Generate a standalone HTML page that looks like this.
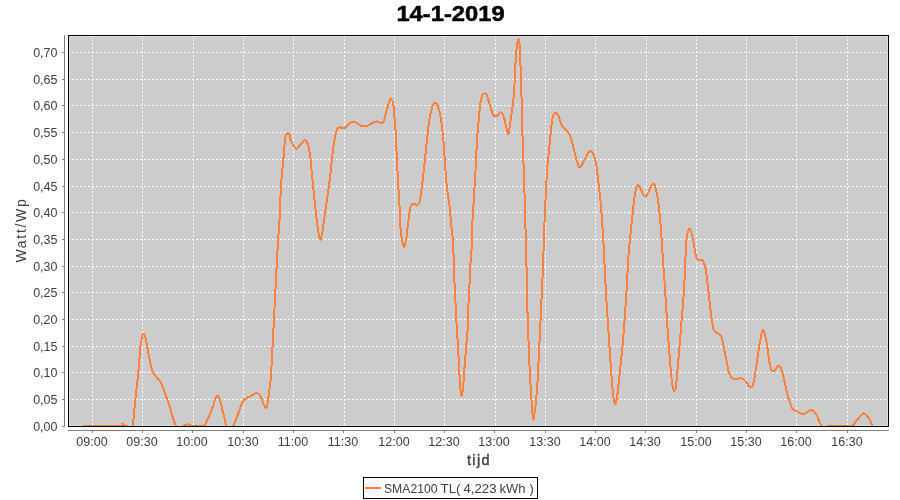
<!DOCTYPE html>
<html><head><meta charset="utf-8"><style>
html,body{margin:0;padding:0;background:#fff;width:900px;height:500px;overflow:hidden}
svg{display:block;will-change:transform}
text{font-family:"Liberation Sans",sans-serif}
</style></head><body>
<svg width="900" height="500" viewBox="0 0 900 500">
<rect x="0" y="0" width="900" height="500" fill="#fff"/>
<g transform="translate(450.5,21) scale(1.08,1)"><text x="0" y="0" text-anchor="middle" font-size="22" font-weight="bold" fill="#000" stroke="#000" stroke-width="0.5">14-1-2019</text></g>
<rect x="68" y="35" width="821" height="392" fill="#cccccc"/>
<rect x="69.5" y="36.5" width="818" height="389" fill="none" stroke="#dddddd" stroke-width="1" shape-rendering="crispEdges"/>
<g stroke="#fff" stroke-width="1" stroke-dasharray="2,2" shape-rendering="crispEdges">
<line x1="92.5" y1="35" x2="92.5" y2="426"/>
<line x1="142.5" y1="35" x2="142.5" y2="426"/>
<line x1="193.5" y1="35" x2="193.5" y2="426"/>
<line x1="243.5" y1="35" x2="243.5" y2="426"/>
<line x1="293.5" y1="35" x2="293.5" y2="426"/>
<line x1="344.5" y1="35" x2="344.5" y2="426"/>
<line x1="394.5" y1="35" x2="394.5" y2="426"/>
<line x1="444.5" y1="35" x2="444.5" y2="426"/>
<line x1="495.5" y1="35" x2="495.5" y2="426"/>
<line x1="545.5" y1="35" x2="545.5" y2="426"/>
<line x1="595.5" y1="35" x2="595.5" y2="426"/>
<line x1="646.5" y1="35" x2="646.5" y2="426"/>
<line x1="696.5" y1="35" x2="696.5" y2="426"/>
<line x1="746.5" y1="35" x2="746.5" y2="426"/>
<line x1="796.5" y1="35" x2="796.5" y2="426"/>
<line x1="847.5" y1="35" x2="847.5" y2="426"/>
<line x1="68" y1="399.5" x2="888" y2="399.5"/>
<line x1="68" y1="372.5" x2="888" y2="372.5"/>
<line x1="68" y1="346.5" x2="888" y2="346.5"/>
<line x1="68" y1="319.5" x2="888" y2="319.5"/>
<line x1="68" y1="292.5" x2="888" y2="292.5"/>
<line x1="68" y1="266.5" x2="888" y2="266.5"/>
<line x1="68" y1="239.5" x2="888" y2="239.5"/>
<line x1="68" y1="212.5" x2="888" y2="212.5"/>
<line x1="68" y1="186.5" x2="888" y2="186.5"/>
<line x1="68" y1="159.5" x2="888" y2="159.5"/>
<line x1="68" y1="132.5" x2="888" y2="132.5"/>
<line x1="68" y1="105.5" x2="888" y2="105.5"/>
<line x1="68" y1="79.5" x2="888" y2="79.5"/>
<line x1="68" y1="52.5" x2="888" y2="52.5"/>
</g>
<clipPath id="pc"><rect x="68" y="35" width="820" height="391"/></clipPath>
<path clip-path="url(#pc)" d="M82.00,426.00 C88.33,426.00 113.27,426.40 120.00,426.00 C126.73,425.60 121.65,423.60 122.40,423.60 C123.15,423.60 123.73,425.60 124.50,426.00 C125.27,426.40 126.08,425.67 127.00,426.00 C127.92,426.33 129.07,428.00 130.00,428.00 C130.93,428.00 131.70,430.78 132.60,426.00 C133.50,421.22 134.45,408.23 135.40,399.30 C136.35,390.37 137.45,381.22 138.30,372.40 C139.15,363.58 139.83,352.47 140.50,346.40 C141.17,340.33 141.75,338.12 142.30,336.00 C142.85,333.88 143.30,333.53 143.80,333.70 C144.30,333.87 144.75,334.88 145.30,337.00 C145.85,339.12 146.07,341.23 147.10,346.40 C148.13,351.57 150.22,363.23 151.50,368.00 C152.78,372.77 153.33,372.72 154.80,375.00 C156.27,377.28 158.57,378.57 160.30,381.70 C162.03,384.83 163.55,389.42 165.20,393.80 C166.85,398.18 168.90,403.97 170.20,408.00 C171.50,412.03 172.03,415.00 173.00,418.00 C173.97,421.00 174.83,424.17 176.00,426.00 C177.17,427.83 178.75,429.00 180.00,429.00 C181.25,429.00 182.17,426.77 183.50,426.00 C184.83,425.23 186.58,424.40 188.00,424.40 C189.42,424.40 189.42,425.73 192.00,426.00 C194.58,426.27 201.20,426.50 203.50,426.00 C205.80,425.50 204.97,424.40 205.80,423.00 C206.63,421.60 207.60,419.58 208.50,417.60 C209.40,415.62 210.37,413.23 211.20,411.10 C212.03,408.97 212.82,406.82 213.50,404.80 C214.18,402.78 214.63,400.50 215.30,399.00 C215.97,397.50 216.75,395.73 217.50,395.80 C218.25,395.87 219.05,397.30 219.80,399.40 C220.55,401.50 221.25,405.40 222.00,408.40 C222.75,411.40 223.62,414.63 224.30,417.40 C224.98,420.17 225.32,422.90 226.10,425.00 C226.88,427.10 227.82,429.83 229.00,430.00 C230.18,430.17 231.97,427.95 233.20,426.00 C234.43,424.05 235.42,420.78 236.40,418.30 C237.38,415.82 238.20,413.50 239.10,411.10 C240.00,408.70 240.97,405.70 241.80,403.90 C242.63,402.10 243.20,401.35 244.10,400.30 C245.00,399.25 246.22,398.23 247.20,397.60 C248.18,396.97 248.42,397.27 250.00,396.50 C251.58,395.73 254.92,392.97 256.70,393.00 C258.48,393.03 259.32,394.37 260.70,396.70 C262.08,399.03 263.90,405.57 265.00,407.00 C266.10,408.43 266.58,408.13 267.30,405.30 C268.02,402.47 268.63,395.88 269.30,390.00 C269.97,384.12 269.93,393.33 271.30,370.00 C272.67,346.67 276.17,274.33 277.50,250.00 C278.83,225.67 278.70,234.83 279.30,224.00 C279.90,213.17 280.43,195.67 281.10,185.00 C281.77,174.33 282.63,167.58 283.30,160.00 C283.97,152.42 284.53,143.83 285.10,139.50 C285.67,135.17 286.18,135.13 286.70,134.00 C287.22,132.87 287.72,132.57 288.20,132.70 C288.68,132.83 289.13,133.45 289.60,134.80 C290.07,136.15 289.90,138.50 291.00,140.80 C292.10,143.10 294.47,148.17 296.20,148.60 C297.93,149.03 299.90,144.78 301.40,143.40 C302.90,142.02 304.02,139.78 305.20,140.30 C306.38,140.82 307.60,143.22 308.50,146.50 C309.40,149.78 310.03,155.42 310.60,160.00 C311.17,164.58 311.05,165.50 311.90,174.00 C312.75,182.50 314.60,201.17 315.70,211.00 C316.80,220.83 317.75,228.23 318.50,233.00 C319.25,237.77 319.65,239.27 320.20,239.60 C320.75,239.93 321.25,237.60 321.80,235.00 C322.35,232.40 322.23,232.77 323.50,224.00 C324.77,215.23 327.88,194.23 329.40,182.40 C330.92,170.57 331.63,160.73 332.60,153.00 C333.57,145.27 334.28,140.20 335.20,136.00 C336.12,131.80 336.48,129.17 338.10,127.80 C339.72,126.43 342.65,128.77 344.90,127.80 C347.15,126.83 349.88,122.97 351.60,122.00 C353.32,121.03 353.55,121.33 355.20,122.00 C356.85,122.67 359.55,125.33 361.50,126.00 C363.45,126.67 364.65,126.72 366.90,126.00 C369.15,125.28 373.05,122.37 375.00,121.70 C376.95,121.03 377.47,121.77 378.60,122.00 C379.73,122.23 380.90,123.33 381.80,123.10 C382.70,122.87 383.25,122.52 384.00,120.60 C384.75,118.68 385.55,114.30 386.30,111.60 C387.05,108.90 387.80,106.57 388.50,104.40 C389.20,102.23 389.75,98.90 390.50,98.60 C391.25,98.30 392.35,99.53 393.00,102.60 C393.65,105.67 393.95,111.90 394.40,117.00 C394.85,122.10 395.33,127.20 395.70,133.20 C396.07,139.20 396.13,143.53 396.60,153.00 C397.07,162.47 398.03,181.67 398.50,190.00 C398.97,198.33 399.13,197.58 399.40,203.00 C399.67,208.42 399.72,216.65 400.10,222.50 C400.48,228.35 401.05,233.98 401.70,238.10 C402.35,242.22 403.23,247.20 404.00,247.20 C404.77,247.20 405.60,242.22 406.30,238.10 C407.00,233.98 407.55,227.48 408.20,222.50 C408.85,217.52 409.43,211.33 410.20,208.20 C410.97,205.07 411.62,204.23 412.80,203.70 C413.98,203.17 416.17,205.33 417.30,205.00 C418.43,204.67 418.95,203.77 419.60,201.70 C420.25,199.63 420.43,198.47 421.20,192.60 C421.97,186.73 422.90,178.20 424.20,166.50 C425.50,154.80 427.62,132.48 429.00,122.40 C430.38,112.32 431.48,109.28 432.50,106.00 C433.52,102.72 434.22,102.70 435.10,102.70 C435.98,102.70 436.82,103.20 437.80,106.00 C438.78,108.80 440.00,113.00 441.00,119.50 C442.00,126.00 443.07,136.58 443.80,145.00 C444.53,153.42 444.78,162.17 445.40,170.00 C446.02,177.83 446.83,186.17 447.50,192.00 C448.17,197.83 448.82,199.92 449.40,205.00 C449.98,210.08 450.37,216.12 451.00,222.50 C451.63,228.88 452.73,235.38 453.20,243.30 C453.67,251.22 453.50,261.95 453.80,270.00 C454.10,278.05 454.60,283.60 455.00,291.60 C455.40,299.60 455.82,310.77 456.20,318.00 C456.58,325.23 456.88,328.05 457.30,335.00 C457.72,341.95 458.20,350.87 458.70,359.70 C459.20,368.53 459.82,381.93 460.30,388.00 C460.78,394.07 461.15,396.10 461.60,396.10 C462.05,396.10 462.48,393.18 463.00,388.00 C463.52,382.82 464.15,372.17 464.70,365.00 C465.25,357.83 465.82,350.83 466.30,345.00 C466.78,339.17 467.28,335.90 467.60,330.00 C467.92,324.10 467.90,316.80 468.20,309.60 C468.50,302.40 469.03,294.23 469.40,286.80 C469.77,279.37 470.00,272.00 470.40,265.00 C470.80,258.00 471.47,251.80 471.80,244.80 C472.13,237.80 472.10,229.97 472.40,223.00 C472.70,216.03 473.20,209.83 473.60,203.00 C474.00,196.17 474.43,188.23 474.80,182.00 C475.17,175.77 475.50,171.27 475.80,165.60 C476.10,159.93 476.35,153.00 476.60,148.00 C476.85,143.00 477.00,139.67 477.30,135.60 C477.60,131.53 477.98,128.20 478.40,123.60 C478.82,119.00 479.37,112.00 479.80,108.00 C480.23,104.00 480.53,101.80 481.00,99.60 C481.47,97.40 482.07,95.83 482.60,94.80 C483.13,93.77 483.53,93.40 484.20,93.40 C484.87,93.40 485.97,93.87 486.60,94.80 C487.23,95.73 487.33,96.90 488.00,99.00 C488.67,101.10 489.70,104.65 490.60,107.40 C491.50,110.15 492.33,114.10 493.40,115.50 C494.47,116.90 495.83,116.30 497.00,115.80 C498.17,115.30 499.37,112.58 500.40,112.50 C501.43,112.42 502.27,113.12 503.20,115.30 C504.13,117.48 505.13,122.43 506.00,125.60 C506.87,128.77 507.70,134.77 508.40,134.30 C509.10,133.83 509.55,127.05 510.20,122.80 C510.85,118.55 511.72,113.23 512.30,108.80 C512.88,104.37 513.33,100.17 513.70,96.20 C514.07,92.23 514.13,91.63 514.50,85.00 C514.87,78.37 515.40,63.57 515.90,56.40 C516.40,49.23 517.07,44.93 517.50,42.00 C517.93,39.07 518.18,38.80 518.50,38.80 C518.82,38.80 519.12,39.07 519.40,42.00 C519.68,44.93 519.92,49.23 520.20,56.40 C520.48,63.57 520.83,76.90 521.10,85.00 C521.37,93.10 521.62,99.17 521.80,105.00 C521.98,110.83 522.03,113.00 522.20,120.00 C522.37,127.00 522.50,137.83 522.80,147.00 C523.10,156.17 523.65,165.00 524.00,175.00 C524.35,185.00 524.60,196.17 524.90,207.00 C525.20,217.83 525.52,229.50 525.80,240.00 C526.08,250.50 526.40,260.83 526.60,270.00 C526.80,279.17 526.77,285.50 527.00,295.00 C527.23,304.50 527.65,316.67 528.00,327.00 C528.35,337.33 528.68,347.33 529.10,357.00 C529.52,366.67 530.10,377.83 530.50,385.00 C530.90,392.17 531.20,395.83 531.50,400.00 C531.80,404.17 532.05,406.75 532.30,410.00 C532.55,413.25 532.68,418.67 533.00,419.50 C533.32,420.33 533.77,417.42 534.20,415.00 C534.63,412.58 535.18,408.67 535.60,405.00 C536.02,401.33 536.33,397.50 536.70,393.00 C537.07,388.50 537.48,383.50 537.80,378.00 C538.12,372.50 538.28,366.67 538.60,360.00 C538.92,353.33 539.33,345.50 539.70,338.00 C540.07,330.50 540.43,323.00 540.80,315.00 C541.17,307.00 541.53,297.83 541.90,290.00 C542.27,282.17 542.68,276.33 543.00,268.00 C543.32,259.67 543.53,248.00 543.80,240.00 C544.07,232.00 544.32,226.67 544.60,220.00 C544.88,213.33 545.07,208.58 545.50,200.00 C545.93,191.42 546.57,177.25 547.20,168.50 C547.83,159.75 548.53,155.20 549.30,147.50 C550.07,139.80 551.10,127.72 551.80,122.30 C552.50,116.88 552.87,116.57 553.50,115.00 C554.13,113.43 554.77,112.73 555.60,112.90 C556.43,113.07 557.55,114.08 558.50,116.00 C559.45,117.92 560.13,122.12 561.30,124.40 C562.47,126.68 564.10,127.95 565.50,129.70 C566.90,131.45 568.48,132.28 569.70,134.90 C570.92,137.52 571.75,141.55 572.80,145.40 C573.85,149.25 574.88,154.32 576.00,158.00 C577.12,161.68 578.10,167.15 579.50,167.50 C580.90,167.85 582.65,162.90 584.40,160.10 C586.15,157.30 588.43,151.57 590.00,150.70 C591.57,149.83 592.75,152.63 593.80,154.90 C594.85,157.17 595.60,160.28 596.30,164.30 C597.00,168.32 597.22,172.05 598.00,179.00 C598.78,185.95 600.10,195.50 601.00,206.00 C601.90,216.50 602.60,228.00 603.40,242.00 C604.20,256.00 605.10,277.33 605.80,290.00 C606.50,302.67 606.83,306.33 607.60,318.00 C608.37,329.67 609.50,347.33 610.40,360.00 C611.30,372.67 612.20,386.63 613.00,394.00 C613.80,401.37 614.50,403.87 615.20,404.20 C615.90,404.53 616.47,401.03 617.20,396.00 C617.93,390.97 618.63,383.27 619.60,374.00 C620.57,364.73 621.83,354.40 623.00,340.40 C624.17,326.40 625.67,304.40 626.60,290.00 C627.53,275.60 627.67,266.00 628.60,254.00 C629.53,242.00 631.08,228.40 632.20,218.00 C633.32,207.60 634.22,197.00 635.30,191.60 C636.38,186.20 637.02,184.80 638.70,185.60 C640.38,186.40 643.08,196.68 645.40,196.40 C647.72,196.12 650.80,184.90 652.60,183.90 C654.40,182.90 655.00,185.12 656.20,190.40 C657.40,195.68 658.60,203.00 659.80,215.60 C661.00,228.20 662.52,253.60 663.40,266.00 C664.28,278.40 664.47,280.40 665.10,290.00 C665.73,299.60 666.28,310.53 667.20,323.60 C668.12,336.67 669.72,358.00 670.60,368.40 C671.48,378.80 671.90,382.18 672.50,386.00 C673.10,389.82 673.62,391.30 674.20,391.30 C674.78,391.30 675.30,391.22 676.00,386.00 C676.70,380.78 677.43,371.33 678.40,360.00 C679.37,348.67 680.87,329.67 681.80,318.00 C682.73,306.33 683.25,302.67 684.00,290.00 C684.75,277.33 685.60,251.83 686.30,242.00 C687.00,232.17 687.60,233.20 688.20,231.00 C688.80,228.80 689.35,228.47 689.90,228.80 C690.45,229.13 690.90,230.80 691.50,233.00 C692.10,235.20 692.75,238.08 693.50,242.00 C694.25,245.92 695.28,253.53 696.00,256.50 C696.72,259.47 696.87,259.25 697.80,259.80 C698.73,260.35 700.63,259.38 701.60,259.80 C702.57,260.22 702.93,260.77 703.60,262.30 C704.27,263.83 704.83,264.52 705.60,269.00 C706.37,273.48 707.30,281.63 708.20,289.20 C709.10,296.77 710.07,307.63 711.00,314.40 C711.93,321.17 712.63,326.63 713.80,329.80 C714.97,332.97 716.73,332.23 718.00,333.40 C719.27,334.57 720.23,333.43 721.40,336.80 C722.57,340.17 723.70,347.53 725.00,353.60 C726.30,359.67 727.80,369.00 729.20,373.20 C730.60,377.40 731.30,377.95 733.40,378.80 C735.50,379.65 739.70,377.83 741.80,378.30 C743.90,378.77 744.60,380.12 746.00,381.60 C747.40,383.08 748.98,386.83 750.20,387.20 C751.42,387.57 752.23,387.67 753.30,383.80 C754.37,379.93 755.50,370.97 756.60,364.00 C757.70,357.03 758.80,347.68 759.90,342.00 C761.00,336.32 762.10,329.90 763.20,329.90 C764.30,329.90 765.40,336.32 766.50,342.00 C767.60,347.68 768.70,359.05 769.80,364.00 C770.90,368.95 771.55,371.40 773.10,371.70 C774.65,372.00 777.45,365.25 779.10,365.80 C780.75,366.35 781.62,370.17 783.00,375.00 C784.38,379.83 786.23,390.22 787.40,394.80 C788.57,399.38 789.23,400.30 790.00,402.50 C790.77,404.70 791.00,406.58 792.00,408.00 C793.00,409.42 794.33,410.03 796.00,411.00 C797.67,411.97 800.50,413.38 802.00,413.80 C803.50,414.22 803.50,414.13 805.00,413.50 C806.50,412.87 809.42,410.25 811.00,410.00 C812.58,409.75 813.50,411.00 814.50,412.00 C815.50,413.00 816.08,414.17 817.00,416.00 C817.92,417.83 819.17,421.33 820.00,423.00 C820.83,424.67 821.08,425.00 822.00,426.00 C822.92,427.00 824.33,429.00 825.50,429.00 C826.67,429.00 824.75,426.50 829.00,426.00 C833.25,425.50 846.92,426.23 851.00,426.00 C855.08,425.77 852.75,425.27 853.50,424.60 C854.25,423.93 854.42,423.35 855.50,422.00 C856.58,420.65 858.67,417.92 860.00,416.50 C861.33,415.08 862.42,413.75 863.50,413.50 C864.58,413.25 865.42,413.92 866.50,415.00 C867.58,416.08 869.00,418.17 870.00,420.00 C871.00,421.83 871.50,424.50 872.50,426.00 C873.50,427.50 875.42,428.50 876.00,429.00" fill="none" stroke="#ff8038" stroke-width="2" stroke-linejoin="round" shape-rendering="crispEdges"/>
<rect x="68.5" y="35.5" width="820" height="391" fill="none" stroke="#000" stroke-width="1" shape-rendering="crispEdges"/>
<g stroke="#808080" stroke-width="1" shape-rendering="crispEdges">
<line x1="64.5" y1="35" x2="64.5" y2="427"/>
<line x1="68" y1="430.5" x2="889" y2="430.5"/>
<line x1="62" y1="426.5" x2="64" y2="426.5"/>
<line x1="62" y1="399.5" x2="64" y2="399.5"/>
<line x1="62" y1="372.5" x2="64" y2="372.5"/>
<line x1="62" y1="346.5" x2="64" y2="346.5"/>
<line x1="62" y1="319.5" x2="64" y2="319.5"/>
<line x1="62" y1="292.5" x2="64" y2="292.5"/>
<line x1="62" y1="266.5" x2="64" y2="266.5"/>
<line x1="62" y1="239.5" x2="64" y2="239.5"/>
<line x1="62" y1="212.5" x2="64" y2="212.5"/>
<line x1="62" y1="186.5" x2="64" y2="186.5"/>
<line x1="62" y1="159.5" x2="64" y2="159.5"/>
<line x1="62" y1="132.5" x2="64" y2="132.5"/>
<line x1="62" y1="105.5" x2="64" y2="105.5"/>
<line x1="62" y1="79.5" x2="64" y2="79.5"/>
<line x1="62" y1="52.5" x2="64" y2="52.5"/>
<line x1="92.5" y1="431" x2="92.5" y2="433"/>
<line x1="142.5" y1="431" x2="142.5" y2="433"/>
<line x1="192.5" y1="431" x2="192.5" y2="433"/>
<line x1="243.5" y1="431" x2="243.5" y2="433"/>
<line x1="293.5" y1="431" x2="293.5" y2="433"/>
<line x1="343.5" y1="431" x2="343.5" y2="433"/>
<line x1="394.5" y1="431" x2="394.5" y2="433"/>
<line x1="444.5" y1="431" x2="444.5" y2="433"/>
<line x1="494.5" y1="431" x2="494.5" y2="433"/>
<line x1="545.5" y1="431" x2="545.5" y2="433"/>
<line x1="595.5" y1="431" x2="595.5" y2="433"/>
<line x1="645.5" y1="431" x2="645.5" y2="433"/>
<line x1="696.5" y1="431" x2="696.5" y2="433"/>
<line x1="746.5" y1="431" x2="746.5" y2="433"/>
<line x1="796.5" y1="431" x2="796.5" y2="433"/>
<line x1="847.5" y1="431" x2="847.5" y2="433"/>
</g>
<g font-size="12.5" fill="#404040" text-anchor="end">
<text x="57.5" y="431.0">0,00</text>
<text x="57.5" y="404.0">0,05</text>
<text x="57.5" y="377.0">0,10</text>
<text x="57.5" y="351.0">0,15</text>
<text x="57.5" y="324.0">0,20</text>
<text x="57.5" y="297.0">0,25</text>
<text x="57.5" y="271.0">0,30</text>
<text x="57.5" y="244.0">0,35</text>
<text x="57.5" y="217.0">0,40</text>
<text x="57.5" y="191.0">0,45</text>
<text x="57.5" y="164.0">0,50</text>
<text x="57.5" y="137.0">0,55</text>
<text x="57.5" y="110.0">0,60</text>
<text x="57.5" y="84.0">0,65</text>
<text x="57.5" y="57.0">0,70</text>
</g>
<g font-size="12.5" fill="#404040" text-anchor="middle">
<text x="92.0" y="446">09:00</text>
<text x="142.0" y="446">09:30</text>
<text x="192.0" y="446">10:00</text>
<text x="243.0" y="446">10:30</text>
<text x="293.0" y="446">11:00</text>
<text x="343.0" y="446">11:30</text>
<text x="394.0" y="446">12:00</text>
<text x="444.0" y="446">12:30</text>
<text x="494.0" y="446">13:00</text>
<text x="545.0" y="446">13:30</text>
<text x="595.0" y="446">14:00</text>
<text x="645.0" y="446">14:30</text>
<text x="696.0" y="446">15:00</text>
<text x="746.0" y="446">15:30</text>
<text x="796.0" y="446">16:00</text>
<text x="847.0" y="446">16:30</text>
</g>
<g transform="translate(26,230) rotate(-90)"><text x="0" y="0" text-anchor="middle" font-size="14" letter-spacing="1.7" fill="#404040">Watt/Wp</text></g>
<g transform="translate(479,465)"><text x="0" y="0" text-anchor="middle" font-size="14.5" letter-spacing="1.4" fill="#404040" stroke="#404040" stroke-width="0.4">tijd</text></g>
<rect x="363.5" y="477.5" width="174" height="21" fill="#fff" stroke="#000" stroke-width="1" shape-rendering="crispEdges"/>
<line x1="365" y1="488" x2="381" y2="488" stroke="#ff8038" stroke-width="2"/>
<g font-size="12.75" fill="#404040">
<text x="384" y="493" textLength="53.5" lengthAdjust="spacingAndGlyphs">SMA2100</text>
<text x="440.5" y="493" textLength="20" lengthAdjust="spacingAndGlyphs">TL(</text>
<text x="463.5" y="493" textLength="33" lengthAdjust="spacingAndGlyphs">4,223</text>
<text x="499.5" y="493" textLength="26" lengthAdjust="spacingAndGlyphs">kWh</text>
<text x="529.5" y="493">)</text>
</g>
</svg>
</body></html>
